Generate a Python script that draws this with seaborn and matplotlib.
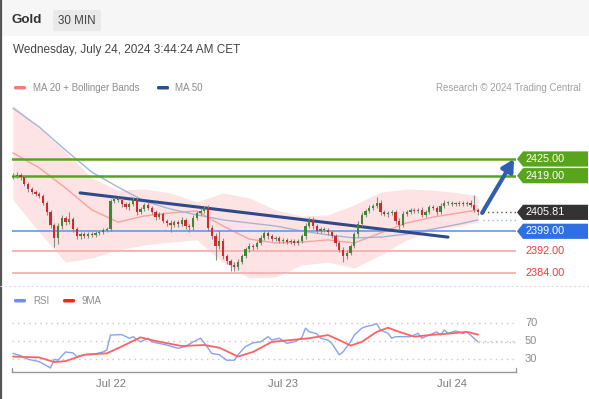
import numpy as np
import pandas as pd
import matplotlib
matplotlib.use("Agg")
import matplotlib.pyplot as plt
from matplotlib.patches import Polygon, Rectangle, FancyBboxPatch
import seaborn as sns

W, H = 589, 399

# ---- price data (30 min candles, Gold) ----
first_open = 2418.6
closes = [
    2418.9, 2419.2, 2418.5, 2416.0, 2414.2, 2413.1, 2412.4, 2411.7, 2409.2, 2405.9,
    2401.3, 2396.6, 2400.9, 2403.8, 2402.3, 2403.4, 2399.8, 2397.3, 2398.0, 2397.3,
    2398.0, 2397.7, 2398.4, 2398.7, 2399.5, 2399.8, 2409.9, 2410.6, 2410.3, 2408.8,
    2407.7, 2408.8, 2410.3, 2405.9, 2407.0, 2408.5, 2407.4, 2405.9, 2404.1, 2405.2,
    2402.7, 2402.0, 2401.3, 2402.3, 2401.6, 2403.1, 2400.9, 2400.5, 2403.8, 2405.6,
    2406.3, 2407.4, 2400.2, 2397.3, 2393.7, 2395.5, 2390.1, 2388.3, 2386.9, 2386.2,
    2388.0, 2390.1, 2392.6, 2393.7, 2393.3, 2394.8, 2396.6, 2398.4, 2397.3, 2396.2,
    2396.6, 2395.5, 2395.9, 2395.1, 2395.5, 2394.8, 2395.5, 2397.3, 2400.9, 2403.1,
    2400.9, 2399.1, 2399.8, 2399.5, 2398.7, 2397.3, 2394.8, 2392.3, 2390.1, 2391.2,
    2393.7, 2398.0, 2401.6, 2404.9, 2406.3, 2407.4, 2408.1, 2409.2, 2405.9, 2405.2,
    2405.6, 2405.9, 2402.7, 2401.3, 2405.2, 2405.9, 2406.7, 2406.3, 2406.7, 2404.9,
    2405.9, 2407.7, 2407.4, 2405.9, 2408.1, 2409.2, 2409.2, 2408.8, 2408.8, 2409.2,
    2408.8, 2409.2, 2408.5, 2406.7, 2405.81,
]
upper_wicks = [
    1.0, 1.2, 0.9, 0.8, 0.7, 0.8, 0.9, 0.7, 0.8, 0.7,
    0.9, 0.8, 1.0, 1.1, 0.8, 2.5, 0.9, 0.7, 0.8, 0.6,
    0.7, 0.6, 0.8, 0.7, 0.6, 0.7, 0.6, 0.9, 0.8, 0.7,
    0.9, 0.8, 1.0, 0.9, 0.8, 0.7, 0.9, 0.8, 0.7, 0.9,
    0.8, 0.7, 0.9, 0.8, 0.7, 0.9, 0.8, 0.7, 1.0, 0.8,
    0.9, 0.8, 0.9, 1.0, 1.2, 4.0, 1.0, 0.9, 0.8, 1.0,
    1.1, 0.9, 0.8, 1.0, 0.9, 0.8, 0.9, 1.0, 0.8, 0.7,
    0.7, 0.8, 0.7, 0.6, 0.7, 0.6, 0.7, 0.8, 0.9, 1.0,
    0.9, 0.8, 0.7, 0.8, 0.7, 0.8, 0.9, 0.8, 1.0, 0.9,
    0.8, 0.9, 1.0, 0.9, 0.8, 0.9, 0.8, 2.1, 1.0, 0.9,
    0.8, 0.9, 0.8, 0.9, 1.0, 0.8, 0.7, 0.8, 0.7, 0.9,
    0.8, 0.9, 0.7, 0.8, 0.9, 1.0, 0.8, 0.7, 0.8, 0.7,
    0.8, 0.7, 0.9, 3.5, 0.8,
]
lower_wicks = [
    0.9, 0.8, 1.0, 0.8, 0.9, 0.8, 0.7, 0.9, 0.8, 1.0,
    1.2, 3.3, 2.0, 1.0, 0.9, 0.8, 1.0, 1.1, 0.9, 0.7,
    0.8, 0.7, 0.6, 0.8, 0.7, 0.8, 0.6, 0.8, 0.7, 0.9,
    0.8, 0.9, 0.8, 1.0, 0.8, 0.7, 0.9, 0.8, 0.9, 0.8,
    0.9, 1.0, 2.6, 0.8, 0.9, 0.8, 1.0, 1.8, 0.9, 0.8,
    0.7, 0.8, 1.0, 1.2, 5.0, 1.0, 1.2, 1.0, 2.2, 1.5,
    1.0, 0.9, 0.8, 0.9, 1.0, 0.8, 0.9, 0.8, 0.9, 0.8,
    0.7, 0.8, 0.7, 0.8, 0.7, 0.8, 0.7, 0.8, 0.9, 0.8,
    0.9, 0.8, 0.7, 0.8, 0.9, 0.8, 1.0, 0.9, 2.1, 1.0,
    0.9, 0.8, 0.9, 0.8, 0.9, 0.8, 0.9, 0.8, 1.0, 0.8,
    0.9, 0.8, 1.0, 1.8, 0.9, 0.8, 0.7, 0.8, 0.7, 0.9,
    0.8, 0.7, 0.8, 0.9, 0.7, 0.8, 0.7, 0.8, 0.7, 0.8,
    0.7, 0.8, 0.7, 0.9, 0.8,
]

# indicators read at every 7th candle
ind_idx = [0, 7, 14, 21, 28, 35, 42, 49, 56, 63, 70, 77, 84, 91, 98, 105, 112, 119, 124]
ma20 = [2427.2, 2421.8, 2414.6, 2406.7, 2402.3, 2404.5, 2405.6, 2406.3, 2400.9, 2396.2,
        2394.8, 2395.1, 2395.9, 2394.8, 2398.4, 2402.0, 2404.1, 2405.6, 2406.7]
ma50 = [2443.3, 2436.5, 2428.2, 2420.3, 2414.9, 2409.9, 2407.0, 2404.9, 2403.1, 2402.0,
        2400.9, 2399.1, 2397.7, 2396.6, 2396.9, 2398.0, 2399.8, 2401.6, 2403.1]
bb_upper = [2444.4, 2436.2, 2427.5, 2418.2, 2413.8, 2414.2, 2412.8, 2409.5, 2412.8, 2411.0,
            2406.7, 2404.5, 2404.9, 2408.5, 2413.1, 2414.2, 2413.8, 2412.8, 2411.7]
bb_lower = [2410.3, 2398.7, 2387.9, 2389.4, 2392.3, 2394.1, 2395.1, 2395.9, 2387.9, 2382.2,
            2382.6, 2386.9, 2387.9, 2385.8, 2390.5, 2395.9, 2399.5, 2400.9, 2402.3]

# key levels from the analysis
resistance_levels = [2425.00, 2419.00]
pivot_level = 2399.00
support_levels = [2392.00, 2384.00]
last_price = 2405.81
trend_start = (17.9, 2412.8)
trend_end = (116.0, 2396.9)
target_arrow = [(125.1, 2405.6), (133.6, 2425.0)]

# RSI panel
rsi_idx = [0, 2, 4, 7, 10, 11, 12, 14, 16, 17, 19, 22, 24, 25, 26, 29, 31, 32, 34, 36,
           37, 41, 44, 46, 48, 50, 51, 53, 55, 57, 59, 60, 62, 64, 66, 68, 69, 71, 73, 75,
           77, 78, 79, 81, 82, 84, 85, 87, 88, 90, 91, 93, 94, 96, 97, 98, 100, 101, 102, 106,
           108, 109, 111, 113, 114, 115, 116, 118, 120, 121, 122, 124]
rsi = [36.5, 34, 30, 27.5, 20.5, 30, 29, 38, 37, 33, 35, 36, 38, 40, 56.5, 57, 53, 54.7, 49, 53,
       49, 45.6, 42, 44, 49, 53, 48, 36.5, 35, 29, 29, 35, 44, 48, 49, 54.7, 51, 53, 47.5, 49,
       53.5, 64, 60, 58, 53, 51, 47.5, 35, 38, 49, 56.5, 64, 65.6, 67.5, 69, 62, 58.4, 53, 54.7, 54.7,
       58.4, 53, 56.5, 60, 56.5, 62, 58.4, 61, 58.4, 60, 56.5, 49]
ma9_idx = [0, 7, 11, 14, 19, 25, 29, 34, 38, 45, 51, 55, 60, 64, 69, 74, 79, 84, 87, 90,
           93, 97, 100, 103, 107, 111, 117, 121, 124]
ma9 = [33, 32, 27, 28, 35, 36.5, 44, 54, 50, 44.5, 45.6, 42.7, 33, 38, 49, 51, 53, 56.5, 51, 45,
       49, 60, 64.5, 60, 54.7, 56.5, 58.4, 60, 57]
rsi_levels = [70, 50, 30]

day_ticks = [26, 72, 117]
day_labels = ["Jul 22", "Jul 23", "Jul 24"]

# ---- styling ----
sns.set_style("white")
plt.rcParams['font.family'] = ['Liberation Sans', 'DejaVu Sans']

GREEN = "#58a51c"
BLUE = "#2f6fe4"
RED_TXT = "#f2393d"
GRAY_TXT = "#8c8c8c"

fig = plt.figure(figsize=(W / 100, H / 100), dpi=100)
fig.patch.set_facecolor("white")

deco = fig.add_axes([0, 0, 1, 1], zorder=0)
deco.set_xlim(0, W)
deco.set_ylim(H, 0)
deco.axis("off")


def px_axes(x0, y0, x1, y1):
    a = fig.add_axes([x0 / W, 1 - y1 / H, (x1 - x0) / W, (y1 - y0) / H], zorder=2)
    a.set_facecolor("none")
    return a


ax = px_axes(12, 100, 516, 285)
ax_rsi = px_axes(12, 310, 516, 372)
xlim = (-1 / 3.75, 503 / 3.75)

# ---- header ----
deco.add_patch(Rectangle((0, 0), W, 36, color="#f6f6f6", lw=0))
deco.plot([1, 1], [0, H], color="#555555", lw=1.6)
deco.text(12, 20, "Gold", fontsize=9.6, fontweight="bold", color="#333333", va="center")
deco.add_patch(FancyBboxPatch((53, 10), 48, 21, boxstyle="round,pad=0,rounding_size=2",
                              facecolor="#e9e9e9", edgecolor="none"))
deco.text(77, 20.5, "30 MIN", fontsize=8.4, color="#444444", va="center", ha="center")
deco.text(13, 50.5, "Wednesday, July 24, 2024 3:44:24 AM CET", fontsize=8.5,
          color="#444444", va="center")

# legends
deco.add_patch(FancyBboxPatch((14, 86), 12, 3.5, boxstyle="round,pad=0,rounding_size=1.5",
                              facecolor="#f47c7c", edgecolor="none"))
deco.text(33, 88, "MA 20 + Bollinger Bands", fontsize=7, color=GRAY_TXT, va="center")
deco.add_patch(FancyBboxPatch((157, 86), 12, 3.5, boxstyle="round,pad=0,rounding_size=1.5",
                              facecolor="#2b4f96", edgecolor="none"))
deco.text(175, 88, "MA 50", fontsize=7, color=GRAY_TXT, va="center")
deco.text(581, 88, "Research \u00a9 2024 Trading Central", fontsize=7, color="#a0a0a0",
          va="center", ha="right")
deco.plot([0, W], [286, 286], color="#dddddd", lw=0.8, ls=(0, (2, 2)))

deco.add_patch(FancyBboxPatch((14, 299), 12, 3.5, boxstyle="round,pad=0,rounding_size=1.5",
                              facecolor="#7090e8", edgecolor="none"))
deco.text(33, 301, "RSI", fontsize=7, color=GRAY_TXT, va="center")
deco.add_patch(FancyBboxPatch((63, 299), 12, 3.5, boxstyle="round,pad=0,rounding_size=1.5",
                              facecolor="#ff2020", edgecolor="none"))
deco.text(82, 301, "9MA", fontsize=7, color=GRAY_TXT, va="center")

# ---- main price panel ----
ax.fill_between(ind_idx, bb_lower, bb_upper, color="#fde3e3", lw=0, zorder=1)
sns.lineplot(x=ind_idx, y=ma20, ax=ax, color="#f5a3a3", lw=1.0, zorder=2)
sns.lineplot(x=ind_idx, y=ma50, ax=ax, color="#a3b5d6", lw=1.0, zorder=2)

for lvl in resistance_levels:
    ax.axhline(lvl, color=GREEN, lw=1.8, zorder=3)
ax.axhline(pivot_level, color="#6f9ff0", lw=1.3, zorder=3)
for lvl in support_levels:
    ax.axhline(lvl, color="#f7b0b0", lw=1.3, zorder=3)

ax.plot([trend_start[0], trend_end[0]], [trend_start[1], trend_end[1]],
        color="#2d4b8a", lw=2.2, solid_capstyle="round", zorder=4)

idx = np.arange(len(closes))
closes_a = np.array(closes)
opens_a = np.concatenate([[first_open], closes_a[:-1]])
highs = np.maximum(opens_a, closes_a) + np.array(upper_wicks)
lows = np.minimum(opens_a, closes_a) - np.array(lower_wicks)
ax.vlines(idx, lows, highs, color="#8a8a8a", lw=0.8, zorder=5)
body_lo = np.minimum(opens_a, closes_a)
body_h = np.maximum(np.abs(closes_a - opens_a), 0.3)
cols = np.where(closes_a >= opens_a, "#3b8a32", "#d3282c")
ax.bar(idx, body_h, bottom=body_lo, width=0.62, color=cols, lw=0, zorder=6)

# dotted extensions to the right scale
ext_x = [idx[-1] + 1.2, xlim[1]]
ax.plot(ext_x, [last_price, last_price], color="#555555", lw=1.0, ls=(0, (1, 2.2)), zorder=3)
ax.plot(ext_x, [ma50[-1], ma50[-1]], color="#a3b5d6", lw=1.0, ls=(0, (1, 2.2)), zorder=3)

ax.annotate("", xy=target_arrow[1], xytext=target_arrow[0],
            arrowprops=dict(arrowstyle="-|>,head_length=0.7,head_width=0.38",
                            color="#2f5fad", lw=3, shrinkA=0, shrinkB=0),
            annotation_clip=False, zorder=7)

ax.set_xlim(*xlim)
ax.set_ylim(2425 - 126 / 2.78, 2425 + 59 / 2.78)
ax.axis("off")

# right-hand price tags
ytr = ax.get_yaxis_transform()
aw = 504.0
half = 7.6 / 2.78


def tag(price, text, face):
    x0, xn, x1 = (517 - 12) / aw, (523 - 12) / aw, (588 - 12) / aw
    ax.add_patch(Polygon([(x0, price), (xn, price + half), (x1, price + half),
                          (x1, price - half), (xn, price - half)], closed=True,
                         transform=ytr, facecolor=face, edgecolor="none", clip_on=False))
    ax.text((525 - 12) / aw, price, text, transform=ytr, color="white", fontsize=7.8,
            va="center", ha="left", clip_on=False)


for lvl in resistance_levels:
    tag(lvl, f"{lvl:.2f}", GREEN)
tag(last_price, f"{last_price:.2f}", "#333333")
tag(pivot_level, f"{pivot_level:.2f}", BLUE)
for lvl in support_levels:
    ax.text((525 - 12) / aw, lvl, f"{lvl:.2f}", transform=ytr, color=RED_TXT,
            fontsize=7.8, va="center", ha="left", clip_on=False)

# ---- RSI panel ----
for lvl in rsi_levels:
    ax_rsi.axhline(lvl, color="#c8c8c8", lw=1.0, ls=(0, (1, 3)), zorder=1)
    ax_rsi.text((525 - 12) / aw, lvl, str(lvl), transform=ax_rsi.get_yaxis_transform(),
                color=GRAY_TXT, fontsize=8, va="center", ha="left", clip_on=False)
sns.lineplot(x=rsi_idx, y=rsi, ax=ax_rsi, color="#86a3f0", lw=1.0, zorder=2)
sns.lineplot(x=ma9_idx, y=ma9, ax=ax_rsi, color="#ff6262", lw=1.3, zorder=3)
ax_rsi.plot([rsi_idx[-1], xlim[1]], [rsi[-1], rsi[-1]], color="#b5c5ee", lw=1.0,
            ls=(0, (1, 2.2)), zorder=2)

ax_rsi.set_xlim(*xlim)
ax_rsi.set_ylim(50 - 31 / 0.915, 50 + 31 / 0.915)
ax_rsi.set_yticks([])
ax_rsi.set_xticks(day_ticks)
ax_rsi.set_xticklabels(day_labels)
ax_rsi.tick_params(axis="x", length=0, pad=5, labelsize=8, labelcolor="#7a7a7a")
for s in ["top", "left", "right"]:
    ax_rsi.spines[s].set_visible(False)
ax_rsi.spines["bottom"].set_color("#9a9a9a")
ax_rsi.spines["bottom"].set_linewidth(1.0)
for xe in xlim:
    ax_rsi.axvline(xe, ymin=0, ymax=0.07, color="#9a9a9a", lw=1.0, clip_on=False)
ax_rsi.set_xlabel("")
ax_rsi.set_ylabel("")

fig.savefig("out.png", dpi=100)
